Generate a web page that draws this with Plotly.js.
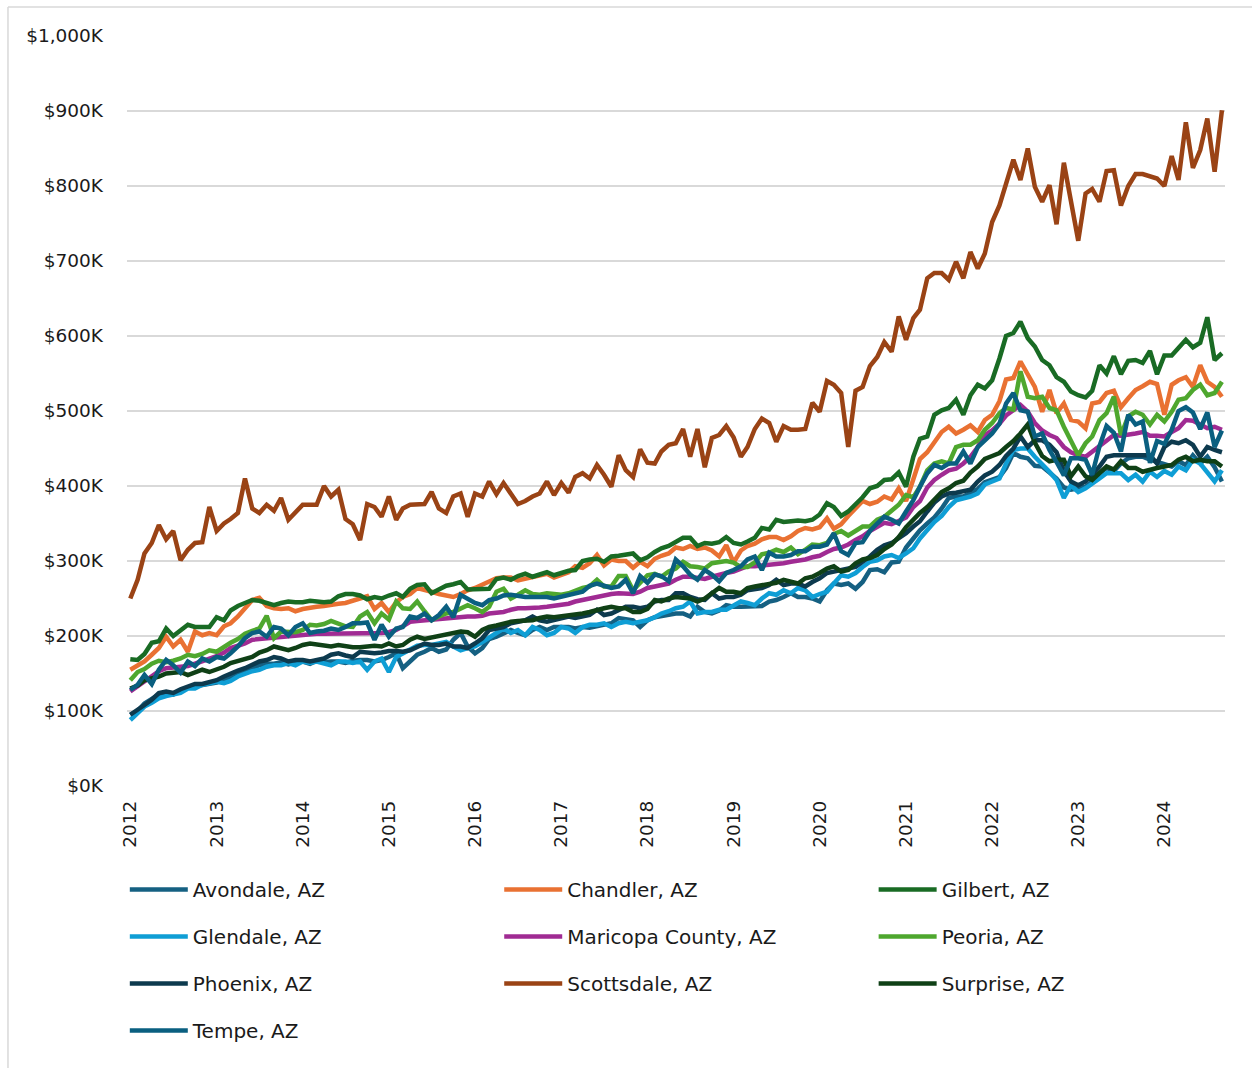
<!DOCTYPE html>
<html>
<head>
<meta charset="utf-8">
<script src="https://cdn.plot.ly/plotly-3.0.1.min.js"></script>
<style>
  html, body { margin: 0; padding: 0; background: #fff; }
  #chart { width: 1252px; height: 1068px; }
</style>
</head>
<body>
<div id="chart"></div>
<script>
// median price, thousands of dollars, monthly Jan 2012 - Sep 2024
var avondale = [
  95, 100, 110, 117, 122, 125, 122, 127, 131, 133, 135, 136,
  138, 142, 145, 150, 153, 157, 161, 163, 163, 165, 162, 165,
  166, 163, 167, 165, 166, 166, 164, 167, 168, 168, 166, 168,
  172, 177, 157, 166, 175, 179, 184, 179, 182, 195, 204, 186,
  177, 184, 196, 199, 204, 208, 204, 201, 208, 212, 208, 212,
  212, 212, 210, 212, 211, 213, 215, 217, 224, 223, 221, 212,
  221, 225, 227, 229, 230, 230, 226, 239, 232, 230, 234, 241,
  239, 239, 239, 239, 240, 246, 248, 252, 257, 252, 252, 250,
  246, 261, 270, 268, 270, 263, 272, 288, 289, 285, 298, 299,
  318, 330, 341, 350, 358, 370, 384, 386, 386, 391, 396, 405,
  408, 412, 424, 444, 439, 437, 427, 426, 418, 410, 398, 395,
  397, 399, 406, 417, 424, 420, 430, 437, 439, 439, 435, 432,
  428, 426, 433, 428, 441, 430, 439, 425, 406
];
var chandler = [
  155, 160, 166, 175, 184, 199, 186, 195, 179, 206, 201, 204,
  201, 213, 217, 226, 237, 248, 251, 240, 237, 236, 237, 233,
  236, 238, 239, 240, 242, 243, 244, 247, 250, 253, 236, 244,
  232, 245, 252, 256, 264, 262, 259, 256, 254, 252, 256, 261,
  264, 268, 272, 277, 278, 278, 274, 276, 278, 281, 283, 278,
  281, 285, 293, 291, 297, 308, 294, 302, 300, 300, 291, 299,
  293, 303, 307, 310, 318, 316, 320, 316, 318, 314, 306, 321,
  298, 314, 320, 323, 329, 332, 332, 328, 333, 340, 344, 342,
  345, 357, 343, 349, 360, 370, 380, 376, 379, 386, 382, 397,
  380, 409, 436, 445, 459, 472, 479, 470, 475, 481, 472, 488,
  495, 513, 542, 544, 566, 550, 532, 499, 528, 497, 510, 488,
  486, 477, 510, 512, 524, 527, 505, 517, 528, 533, 539, 536,
  495, 535, 541, 545, 532, 561, 539, 532, 519
];
var gilbert = [
  169, 168, 176, 191, 193, 210, 200, 207, 215, 212, 212, 212,
  225, 221, 234, 240, 244, 248, 247, 244, 241, 244, 246, 245,
  245, 247, 246, 245, 246, 253, 256, 256, 254, 249, 252, 250,
  254, 257, 252, 263, 268, 269, 257, 262, 267, 269, 272, 262,
  262, 263, 263, 276, 278, 275, 280, 283, 279, 282, 285, 281,
  284, 287, 288, 300, 302, 303, 299, 306, 307, 309, 310, 301,
  305, 312, 317, 320, 326, 331, 331, 320, 324, 323, 325, 332,
  324, 322, 326, 331, 344, 342, 355, 352, 353, 354, 353, 355,
  362, 377, 372, 360, 366, 375, 385, 397, 400, 408, 409, 418,
  399, 439, 463, 466, 495, 501, 504, 515, 495, 521, 535, 530,
  541, 570, 600, 604, 619, 597, 586, 568, 561, 545, 539, 526,
  521, 518, 527, 561, 550, 573, 549, 567, 568, 564, 580, 549,
  574, 574, 585, 595, 585, 591, 625, 568, 577
];
var glendale = [
  88, 97, 106, 111, 117, 120, 122, 124, 130, 130, 135, 137,
  139, 137, 140, 146, 150, 153, 155, 159, 161, 161, 164, 161,
  166, 164, 166, 163, 161, 166, 166, 164, 166, 155, 166, 170,
  152, 172, 177, 182, 187, 188, 188, 190, 192, 186, 181, 184,
  186, 192, 197, 204, 210, 204, 208, 201, 212, 208, 201, 204,
  212, 210, 204, 212, 215, 215, 217, 212, 217, 219, 217, 219,
  221, 225, 230, 233, 237, 239, 246, 230, 232, 232, 235, 235,
  241, 246, 244, 241, 250, 257, 255, 261, 257, 264, 261, 252,
  256, 259, 270, 281, 279, 284, 292, 299, 301, 306, 308, 304,
  310, 317, 330, 342, 352, 360, 372, 381, 383, 386, 390, 402,
  406, 410, 430, 448, 450, 450, 439, 430, 419, 408, 384, 401,
  392, 397, 404, 410, 417, 417, 417, 408, 415, 406, 419, 412,
  420, 415, 426, 421, 435, 430, 418, 406, 421
];
var maricopa = [
  126, 133, 140, 147, 153, 157, 158, 160, 160, 163, 166, 169,
  173, 178, 184, 187, 190, 195, 196, 196, 197, 198, 199, 200,
  201, 202, 203, 203, 203, 203, 203, 203, 203, 203, 203, 204,
  205, 208, 213, 219, 220, 221, 222, 222, 223, 224, 225, 226,
  226, 227, 230, 231, 232, 235, 237, 237, 237, 238, 239, 240,
  241, 243, 246, 248, 250, 253, 255, 256, 257, 256, 256, 259,
  264, 266, 268, 270, 275, 279, 279, 277, 276, 279, 282, 284,
  286, 290, 293, 293, 294, 294, 295, 297, 299, 300, 302, 305,
  307, 312, 316, 318, 322, 328, 333, 340, 346, 351, 349, 353,
  358, 372, 380, 398, 408, 415, 421, 423, 430, 439, 452, 468,
  474, 483, 494, 501, 508, 499, 484, 474, 468, 464, 452, 445,
  441, 439, 446, 452, 461, 468, 467, 468, 470, 472, 467, 467,
  466, 472, 477, 488, 487, 482, 477, 479, 475
];
var peoria = [
  141, 152, 156, 163, 167, 165, 167, 170, 175, 173, 176, 181,
  179, 186, 191, 196, 203, 207, 210, 227, 197, 206, 206, 205,
  208, 215, 214, 216, 220, 217, 213, 212, 226, 232, 217, 230,
  222, 246, 237, 236, 246, 233, 221, 226, 230, 232, 237, 241,
  237, 232, 239, 259, 263, 250, 255, 261, 256, 255, 257, 256,
  255, 257, 261, 264, 266, 275, 266, 266, 280, 280, 261, 270,
  281, 283, 279, 286, 290, 299, 293, 292, 290, 297, 299, 300,
  298, 292, 292, 298, 309, 311, 315, 312, 318, 309, 315, 322,
  321, 324, 336, 340, 334, 341, 346, 346, 355, 359, 368, 375,
  388, 385, 399, 421, 430, 433, 430, 452, 455, 455, 461, 475,
  484, 497, 504, 502, 553, 519, 517, 519, 504, 501, 479, 461,
  441, 457, 466, 488, 497, 519, 468, 493, 499, 495, 482, 495,
  486, 499, 515, 517, 528, 535, 521, 524, 539
];
var phoenix = [
  95, 101, 108, 115, 124, 126, 124, 129, 133, 136, 136, 138,
  141, 146, 150, 154, 157, 161, 166, 168, 172, 170, 166, 168,
  168, 166, 168, 170, 175, 177, 174, 172, 179, 178, 177, 178,
  180, 180, 179, 181, 186, 190, 188, 188, 190, 186, 186, 184,
  190, 197, 208, 210, 212, 217, 219, 221, 226, 221, 219, 221,
  223, 226, 224, 226, 228, 235, 228, 230, 235, 239, 239, 237,
  239, 246, 248, 248, 257, 257, 252, 249, 248, 257, 250, 252,
  252, 255, 261, 263, 264, 268, 275, 268, 270, 270, 266, 272,
  277, 284, 286, 288, 290, 292, 299, 306, 315, 321, 324, 330,
  337, 346, 353, 366, 378, 386, 390, 391, 393, 395, 406, 414,
  419, 428, 440, 450, 466, 452, 461, 461, 455, 445, 420, 406,
  401, 406, 415, 426, 439, 441, 441, 441, 441, 441, 441, 430,
  452, 459, 457, 461, 455, 439, 452, 448, 445
];
var scottsdale = [
  250, 275, 310, 324, 348, 329, 340, 301, 315, 324, 325, 372,
  340, 350, 356, 364, 410, 370, 364, 375, 367, 384, 355, 364,
  375, 375, 375, 400, 386, 395, 356, 349, 328, 376, 372, 359,
  386, 355, 370, 375, 375, 376, 392, 370, 364, 386, 390, 359,
  390, 386, 406, 389, 404, 390, 376, 380, 386, 390, 406, 388,
  404, 391, 412, 417, 410, 428, 415, 399, 441, 421, 412, 449,
  431, 430, 446, 455, 457, 476, 439, 476, 425, 464, 468, 480,
  465, 439, 452, 476, 490, 484, 459, 480, 475, 475, 476, 511,
  499, 540, 535, 524, 452, 527, 532, 560, 572, 592, 579, 626,
  595, 624, 635, 677, 684, 684, 675, 699, 677, 712, 690, 710,
  752, 774, 803, 835, 808, 850, 799, 779, 801, 749, 831, 777,
  727, 790, 796, 779, 820, 821, 774, 800, 816, 816, 813, 810,
  800, 840, 808, 885, 824, 848, 890, 819, 901
];
var surprise = [
  130, 134, 141, 143, 146, 150, 151, 152, 148, 152, 155, 152,
  155, 159, 164, 167, 169, 172, 178, 181, 186, 183, 181, 184,
  188, 190, 189, 187, 186, 188, 186, 185, 185, 186, 187, 186,
  190, 186, 188, 195, 199, 196, 198, 200, 201, 204, 206, 205,
  199, 208, 212, 214, 217, 219, 220, 221, 221, 224, 226, 225,
  226, 228, 229, 230, 232, 235, 237, 239, 237, 237, 232, 232,
  236, 248, 246, 250, 252, 251, 250, 246, 250, 257, 264, 259,
  259, 257, 264, 266, 268, 270, 271, 275, 272, 270, 277, 279,
  284, 290, 293, 286, 288, 297, 302, 304, 308, 316, 322, 332,
  345, 356, 364, 372, 382, 392, 397, 404, 407, 418, 426, 436,
  440, 444, 452, 460, 470, 482, 458, 440, 433, 435, 435, 413,
  426, 413, 408, 417, 426, 422, 433, 424, 424, 419, 422, 424,
  426, 428, 435, 439, 433, 435, 433, 433, 426
];
var tempe = [
  128, 135, 148, 136, 155, 168, 161, 151, 166, 160, 170, 166,
  172, 170, 177, 186, 197, 204, 206, 199, 212, 210, 201, 212,
  217, 204, 206, 207, 210, 208, 212, 217, 217, 218, 195, 215,
  199, 210, 212, 226, 224, 230, 221, 228, 239, 225, 255, 250,
  244, 241, 248, 250, 254, 255, 253, 252, 252, 252, 252, 250,
  252, 255, 257, 259, 267, 270, 267, 264, 266, 275, 257, 280,
  271, 282, 280, 273, 302, 293, 282, 275, 288, 282, 273, 284,
  288, 293, 302, 306, 288, 311, 306, 306, 308, 313, 313, 319,
  319, 322, 337, 313, 308, 324, 325, 340, 350, 359, 355, 350,
  366, 381, 399, 417, 428, 424, 430, 430, 446, 430, 452, 460,
  470, 483, 510, 524, 501, 499, 466, 470, 448, 432, 414, 437,
  437, 435, 415, 453, 480, 471, 446, 495, 482, 486, 431, 460,
  456, 475, 500, 505, 498, 476, 498, 452, 474
];

var names = ['Avondale, AZ', 'Chandler, AZ', 'Gilbert, AZ', 'Glendale, AZ', 'Maricopa County, AZ',
             'Peoria, AZ', 'Phoenix, AZ', 'Scottsdale, AZ', 'Surprise, AZ', 'Tempe, AZ'];
var series = [avondale, chandler, gilbert, glendale, maricopa, peoria, phoenix, scottsdale, surprise, tempe];
var colors = ['#156082', '#E97132', '#196B24', '#0F9ED5', '#A02B93',
              '#4EA72E', '#0D3A4E', '#9A4315', '#0F4016', '#0A5F80'];
// which legend column each series sits in
var legendCol = ['legend', 'legend2', 'legend3', 'legend', 'legend2',
                 'legend3', 'legend', 'legend2', 'legend3', 'legend'];

// month categories, Jan 2012 onward
var months = [];
for (var i = 0; i < avondale.length; i++) {
  var yr = 2012 + Math.floor(i / 12);
  var mo = (i % 12) + 1;
  months.push(yr + '-' + (mo < 10 ? '0' + mo : mo) + '-01');
}

var data = [];
for (var k = 0; k < series.length; k++) {
  data.push({
    x: months,
    y: series[k],
    name: names[k],
    type: 'scatter',
    mode: 'lines',
    line: {color: colors[k], width: 4.5},
    legend: legendCol[k],
    legendgroup: 'g' + k
  });
}

var legFont = {family: 'DejaVu Sans', size: 20, color: '#1a1a1a'};
function legendAt(x) {
  return {
    x: x, y: -0.112, xanchor: 'left', yanchor: 'top',
    orientation: 'v', font: legFont, itemwidth: 58,
    traceorder: 'grouped', tracegroupgap: 18,
    bgcolor: 'rgba(0,0,0,0)'
  };
}

var tickFont = {family: 'DejaVu Sans', size: 18.5, color: '#1a1a1a'};

var layout = {
  width: 1252,
  height: 1068,
  margin: {l: 127, r: 27, t: 36, b: 282},
  paper_bgcolor: '#fff',
  plot_bgcolor: '#fff',
  showlegend: true,
  xaxis: {
    type: 'date',
    range: ['2011-12-18', '2024-09-14'],
    tick0: '2012-01-01',
    dtick: 'M12',
    tickformat: '%Y',
    tickangle: -90,
    tickfont: tickFont,
    ticklabelstandoff: 10,
    showgrid: false,
    zeroline: false,
    showline: false,
    ticks: ''
  },
  yaxis: {
    range: [0, 1000],
    dtick: 100,
    tickformat: ',d',
    tickprefix: '$',
    ticksuffix: 'K',
    tickfont: tickFont,
    ticklabelstandoff: 23,
    gridcolor: '#D9D9D9',
    gridwidth: 1.5,
    zeroline: false,
    showline: false,
    ticks: ''
  },
  legend: legendAt(-0.002),
  legend2: legendAt(0.339),
  legend3: legendAt(0.680),
  shapes: [
    {type: 'line', xref: 'paper', yref: 'paper', x0: -0.1084, x1: -0.1084, y0: -0.4, y1: 1.0387,
     line: {color: '#D9D9D9', width: 1.5}},
    {type: 'line', xref: 'paper', yref: 'paper', x0: -0.1084, x1: 1.05, y0: 1.0387, y1: 1.0387,
     line: {color: '#D9D9D9', width: 1.5}}
  ]
};

Plotly.newPlot('chart', data, layout, {displayModeBar: false, staticPlot: true});
</script>
</body>
</html>
